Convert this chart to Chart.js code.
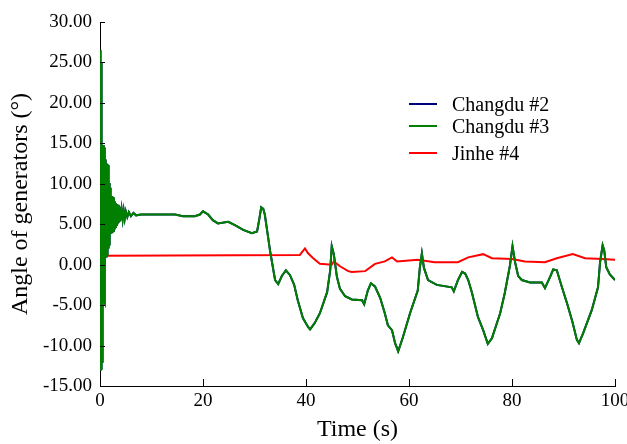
<!DOCTYPE html>
<html><head><meta charset="utf-8">
<script src="https://cdn.jsdelivr.net/npm/chart.js@4.4.1/dist/chart.umd.min.js"></script>
<style>
html,body{margin:0;padding:0;background:#fff;}
#wrap{position:relative;width:627px;height:444px;}
canvas{display:block;}
.leg{position:absolute;left:409px;height:24px;width:200px;font-family:"Liberation Serif","Times New Roman",serif;font-size:20px;line-height:24px;color:#000;white-space:nowrap;}
.leg .l{position:absolute;left:0;top:11px;width:28px;height:2px;}
.leg .t{position:absolute;left:43px;top:0;}
</style></head>
<body><div id="wrap"><canvas id="c" width="627" height="444"></canvas><div id="legend"></div></div>
<script>
// ---- data ----
const seriesNames = ['Changdu #2', 'Changdu #3', 'Jinhe #4'];
const xTicks = [0, 20, 40, 60, 80, 100];
const yTicks = [-15, -10, -5, 0, 5, 10, 15, 20, 25, 30];

const changdu3Time = [0,0.04,0.08,0.12,0.16,0.20,0.24,0.28,0.32,0.36,
  0.40,0.44,0.48,0.52,0.56,0.60,0.64,0.68,0.72,0.76,
  0.80,0.84,0.88,0.92,0.96,1.00,1.04,1.08,1.12,1.16,
  1.20,1.24,1.28,1.32,1.36,1.40,1.44,1.48,1.52,1.56,
  1.60,1.64,1.68,1.72,1.76,1.80,1.84,1.88,1.92,1.96,
  2.00,2.1,2.2,2.3,2.4,2.5,2.6,2.7,2.8,2.9,
  3.0,3.1,3.2,3.3,3.4,3.5,3.6,3.7,3.8,3.9,
  4.0,4.2,4.4,4.6,4.8,5.0,5.3,5.6,6.0,6.5,
  7.0,8.0,
  9.7,14.6,16.1,18.4,19.4,20.0,21.0,21.9,22.9,24.9,
  26.2,27.8,29.5,30.5,30.9,31.3,31.7,32.0,32.6,33.0,
  33.4,34.0,34.6,35.3,36.1,36.9,37.7,38.4,39.4,40.4,
  40.8,41.7,42.7,44.1,44.7,45.0,45.4,46.0,46.6,47.6,
  48.9,50.9,51.3,52.0,52.6,53.4,54.4,55.3,55.9,56.7,
  57.3,57.9,58.8,60.2,61.7,62.1,62.5,62.9,63.7,65.4,
  68.3,68.7,69.5,70.3,70.9,71.5,72.2,73.4,74.4,75.3,
  76.1,77.7,78.6,79.6,80.1,80.6,81.2,81.9,83.5,85.8,
  86.4,87.4,88.0,88.7,89.7,90.7,91.7,92.6,93.0,93.8,
  95.5,96.7,97.1,97.6,97.9,98.3,99.0,100];
const changdu3Angle = [1.1,26.5,-13.1,26.2,-12.8,25.0,-13.0,20.0,-10.0,15.0,
  -12.0,14.8,-5.0,14.8,-4.6,14.7,-4.5,14.8,-4.7,14.6,
  -4.4,14.5,-4.6,14.4,-2.0,13.0,1.0,12.6,0.9,12.6,
  1.0,12.5,1.1,12.5,1.2,12.4,1.3,12.4,1.5,12.3,
  2.0,11.0,2.4,10.2,2.5,10.1,2.6,10.0,2.8,9.5,
  3.8,8.6,4.0,8.5,4.1,8.4,4.2,8.3,4.5,7.8,
  4.7,7.6,4.9,7.5,5.0,7.4,5.2,7.2,5.3,7.0,
  5.5,6.8,5.6,6.7,5.7,6.6,5.9,6.5,6.0,6.4,
  6.1,6.2,
  6.2,6.2,6.0,6.0,6.2,6.6,6.2,5.5,5.1,5.3,
  4.9,4.3,3.9,4.1,5.5,7.1,6.9,6.2,3.6,1.8,
  0.3,-1.9,-2.4,-1.4,-0.7,-1.3,-2.5,-4.4,-6.6,-7.7,
  -8.0,-7.2,-6.0,-3.4,-0.7,2.3,1.3,-1.5,-3.0,-3.9,
  -4.3,-4.4,-4.9,-3.2,-2.3,-2.7,-4.1,-6.0,-7.5,-8.1,
  -9.7,-10.7,-9.0,-6.0,-3.2,-0.4,1.4,-0.4,-1.9,-2.5,
  -2.8,-3.3,-1.9,-0.9,-1.1,-1.9,-3.4,-6.5,-8.1,-9.8,
  -9.1,-6.0,-3.5,-0.1,2.3,0.3,-1.4,-1.9,-2.2,-2.2,
  -2.9,-1.5,-0.6,-0.7,-2.8,-4.8,-7.0,-9.3,-9.7,-8.5,
  -5.6,-2.8,0.3,2.4,1.8,-0.3,-1.2,-1.9];

// Changdu #2 lies exactly under Changdu #3 in the picture
const changdu2Time = changdu3Time;
const changdu2Angle = changdu3Angle;

const jinhe4Time = [0,0.1,0.3,0.6,1.0,38.8,39.8,40.4,41.4,42.7,
  45.0,45.4,46.6,48.2,48.9,51.5,53.4,55.3,56.7,57.7,
  61.7,65.0,69.5,71.5,74.4,76.1,80.0,82.5,86.4,88.7,
  91.8,94.2,97.5,100];
const jinhe4Angle = [1.2,1.7,1.0,1.3,1.1,1.2,2.0,1.4,0.8,0.1,
  0.0,0.4,-0.2,-0.8,-0.9,-0.8,0.1,0.4,0.9,0.4,
  0.6,0.3,0.3,0.9,1.3,0.8,0.7,0.4,0.3,0.8,
  1.3,0.8,0.7,0.6];

// ---- styling ----
const seriesColors = ['#00007F', '#007F00', '#FF0000'];
const legendRowY = [104, 126, 153];
const FONT = '"Liberation Serif", "Times New Roman", serif';

const pts = (t, v) => t.map((x, i) => ({x: x, y: v[i]}));

const inwardTicks = {
  id: 'inwardTicks',
  afterDraw(chart) {
    const {ctx, chartArea: a, scales: {x, y}} = chart;
    ctx.save();
    ctx.strokeStyle = '#000';
    ctx.lineWidth = 1;
    ctx.beginPath();
    x.ticks.forEach(t => {
      const px = Math.round(x.getPixelForValue(t.value)) + 0.5;
      ctx.moveTo(px, a.bottom); ctx.lineTo(px, a.bottom - 7);
    });
    y.ticks.forEach(t => {
      const py = Math.round(y.getPixelForValue(t.value)) + 0.5;
      ctx.moveTo(a.left, py); ctx.lineTo(a.left + 5, py);
    });
    ctx.stroke();
    ctx.restore();
  }
};

new Chart(document.getElementById('c'), {
  type: 'line',
  data: {
    datasets: [
      {label: seriesNames[0], data: pts(changdu2Time, changdu2Angle), borderColor: seriesColors[0], order: 3},
      {label: seriesNames[1], data: pts(changdu3Time, changdu3Angle), borderColor: seriesColors[1], order: 1},
      {label: seriesNames[2], data: pts(jinhe4Time, jinhe4Angle), borderColor: seriesColors[2], order: 2}
    ]
  },
  options: {
    responsive: false,
    animation: false,
    devicePixelRatio: 1,
    datasets: {line: {borderWidth: 2, pointRadius: 0, tension: 0, fill: false}},
    layout: {padding: {left: 0, right: 12, top: 22, bottom: 0}},
    plugins: {legend: {display: false}, tooltip: {enabled: false}},
    scales: {
      x: {
        type: 'linear', min: 0, max: 100,
        afterBuildTicks: s => { s.ticks = xTicks.map(v => ({value: v})); },
        afterFit: s => { s.height = 58; s.paddingRight = 0; s.paddingLeft = 0; },
        grid: {display: false, drawTicks: false},
        border: {display: true, color: '#000', width: 1},
        ticks: {color: '#000', padding: 4, maxRotation: 0, font: {family: FONT, size: 19}, callback: v => String(v)},
        title: {display: true, text: 'Time (s)', color: '#000', font: {family: FONT, size: 24}, padding: {top: 0, bottom: 0}}
      },
      y: {
        type: 'linear', min: -15, max: 30,
        afterBuildTicks: s => { s.ticks = yTicks.map(v => ({value: v})); },
        afterFit: s => { s.width = 100; s.paddingTop = 0; s.paddingBottom = 0; },
        grid: {display: false, drawTicks: false},
        border: {display: true, color: '#000', width: 1},
        ticks: {color: '#000', padding: 8, font: {family: FONT, size: 19}, callback: v => Number(v).toFixed(2)},
        title: {display: true, text: 'Angle of generators (°)', color: '#000', font: {family: FONT, size: 24}, padding: {top: 6, bottom: 0}}
      }
    }
  },
  plugins: [inwardTicks]
});

// legend (real text)
const leg = document.getElementById('legend');
seriesNames.forEach((name, i) => {
  const row = document.createElement('div');
  row.className = 'leg';
  row.style.top = (legendRowY[i] - 12) + 'px';
  const line = document.createElement('span');
  line.className = 'l';
  line.style.background = seriesColors[i];
  const txt = document.createElement('span');
  txt.className = 't';
  txt.textContent = name;
  row.appendChild(line); row.appendChild(txt);
  leg.appendChild(row);
});
</script>
</body></html>
